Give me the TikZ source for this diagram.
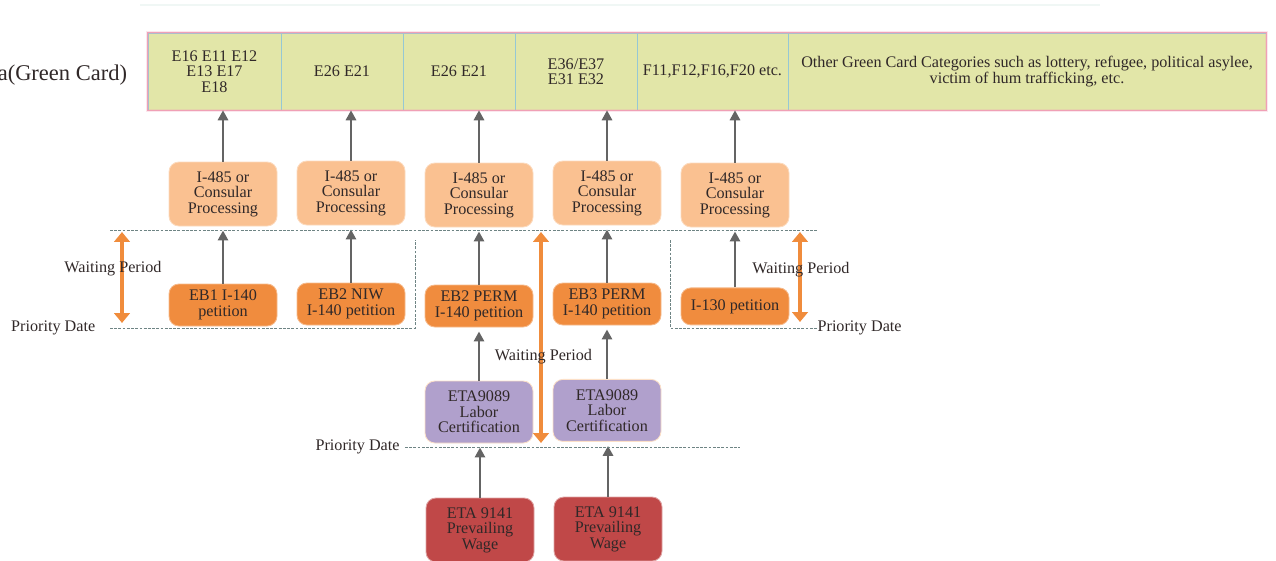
\documentclass[tikz,border=0pt]{standalone}
\usepackage{fontspec}
\setmainfont{Liberation Serif}
\definecolor{gcfill}{RGB}{226, 230, 168}
\definecolor{gcline}{RGB}{150, 200, 212}
\definecolor{gcborder}{RGB}{240, 160, 182}
\definecolor{cporange}{RGB}{250, 193, 145}
\definecolor{petorange}{RGB}{240, 140, 62}
\definecolor{laborpurple}{RGB}{176, 160, 204}
\definecolor{wagered}{RGB}{192, 72, 72}
\definecolor{arrowgray}{RGB}{100, 100, 100}
\definecolor{waitorange}{RGB}{240, 140, 60}
\definecolor{guidegray}{RGB}{110, 132, 132}
\definecolor{inktext}{RGB}{48, 40, 40}
\definecolor{topshade}{RGB}{240, 247, 245}
\usetikzlibrary{arrows.meta, positioning, calc}
\newcommand{\boxfont}{\fontsize{11.5}{11}\selectfont}

\begin{document}
\begin{tikzpicture}[
  gccell/.style={draw=gcline, fill=gcfill, line width=0.6pt, minimum height=1.925cm, inner sep=2pt, align=center, font=\boxfont, text=inktext},
  procbox/.style={rounded corners=7pt, minimum width=2.7cm, inner sep=1pt, align=center, font=\boxfont, text=inktext, line width=0.6pt},
  cpbox/.style={procbox, draw=cporange!60!white, fill=cporange, minimum height=1.6cm},
  petbox/.style={procbox, draw=petorange!60!white, fill=petorange, minimum height=1.05cm},
  laborbox/.style={procbox, draw=cporange!50!white, fill=laborpurple, minimum height=1.55cm},
  wagebox/.style={procbox, draw=wagered!50!white, fill=wagered, minimum height=1.6cm},
  upflow/.style={-{Triangle[length=7pt, width=7.5pt]}, line width=1pt, arrowgray},
  waitarrow/.style={{Triangle[length=7pt, width=11pt]}-{Triangle[length=7pt, width=11pt]}, line width=3.5pt, waitorange},
  guide/.style={guidegray, line width=0.6pt, dash pattern=on 2pt off 1pt},
  note/.style={font=\boxfont, text=inktext}
]
  \useasboundingbox (0,0) rectangle (31.9,-14);

  % faint shade on top
  \draw[topshade, line width=2pt] (3.5,-0.125) -- (27.5,-0.125);

  % Green card categories
  \node[font=\fontsize{16}{18}\selectfont, text=inktext, anchor=east] (gclabel) at (3.3,-1.875) {a(Green Card)};
  \node[gccell, minimum width=3.325cm] (gc1) at (5.3625,-1.7875) {E16 E11 E12\\E13 E17\\E18};
  \node[gccell, minimum width=3.05cm] (gc2) at (8.55,-1.7875) {E26 E21};
  \node[gccell, minimum width=2.8cm] (gc3) at (11.475,-1.7875) {E26 E21};
  \node[gccell, minimum width=3.05cm] (gc4) at (14.4,-1.7875) {E36/E37\\E31 E32};
  \node[gccell, minimum width=3.775cm] (gc5) at (17.8125,-1.7875) {F11,F12,F16,F20 etc.};
  \node[gccell, minimum width=11.95cm] (gc6) at (25.675,-1.7875) {Other Green Card Categories such as lottery, refugee, political asylee,\\victim of hum trafficking, etc.};
  \draw[gcborder, line width=2.5pt, opacity=0.25] (gc1.north west) rectangle (gc6.south east);
  \draw[gcborder, line width=1pt] (gc1.north west) rectangle (gc6.south east);

  % I-485 row
  \node[cpbox] (cp1) at (5.575,-4.85) {I-485 or\\Consular\\Processing};
  \node[cpbox] (cp2) at (8.775,-4.825) {I-485 or\\Consular\\Processing};
  \node[cpbox] (cp3) at (11.975,-4.875) {I-485 or\\Consular\\Processing};
  \node[cpbox] (cp4) at (15.175,-4.825) {I-485 or\\Consular\\Processing};
  \node[cpbox] (cp5) at (18.375,-4.875) {I-485 or\\Consular\\Processing};

  % petitions
  \node[petbox] (eb1) at (5.575,-7.625) {EB1 I-140\\petition};
  \node[petbox] (eb2niw) at (8.775,-7.6) {EB2 NIW\\I-140 petition};
  \node[petbox] (eb2perm) at (11.975,-7.65) {EB2 PERM\\I-140 petition};
  \node[petbox] (eb3perm) at (15.175,-7.6) {EB3 PERM\\I-140 petition};
  \node[petbox, minimum height=0.925cm] (i130) at (18.375,-7.66) {I-130 petition};

  % labor certification and prevailing wage
  \node[laborbox] (eta1) at (11.975,-10.3) {ETA9089\\Labor\\Certification};
  \node[laborbox] (eta2) at (15.175,-10.26) {ETA9089\\Labor\\Certification};
  \node[wagebox] (pw1) at (12.0,-13.25) {ETA 9141\\Prevailing\\Wage};
  \node[wagebox] (pw2) at (15.2,-13.225) {ETA 9141\\Prevailing\\Wage};

  % flow arrows
  \foreach \a/\b in {cp1/gc1, cp2/gc2, cp3/gc3, cp4/gc4, cp5/gc5}
    \draw[upflow] (\a.north) -- (\a.north |- \b.south);
  \foreach \a/\b in {eb1/cp1, eb2niw/cp2, eb2perm/cp3, eb3perm/cp4, i130/cp5, eta1/eb2perm, eta2/eb3perm, pw1/eta1, pw2/eta2}
    \draw[upflow, shorten >=3pt] (\a.north) -- (\a.north |- \b.south);

  % priority date guides
  \draw[guide] (2.75,-5.75) -- (20.45,-5.75);
  \draw[guide] (2.75,-8.2) -- (10.375,-8.2) -- (10.375,-6.0);
  \draw[guide] (16.75,-6.0) -- (16.75,-8.2) -- (20.45,-8.2);
  \draw[guide] (10.125,-11.175) -- (18.5,-11.175);
  \node[note] (pd1) at (1.33,-8.2) {Priority Date};
  \node[note] (pd2) at (21.49,-8.2) {Priority Date};
  \node[note] (pd3) at (8.94,-11.175) {Priority Date};

  % waiting periods
  \coordinate (wl-top) at (3.05,-5.8);
  \coordinate (wl-bot) at (3.05,-8.075);
  \coordinate (wm-top) at (13.525,-5.8);
  \coordinate (wm-bot) at (13.525,-11.075);
  \coordinate (wr-top) at (20.0,-5.8);
  \coordinate (wr-bot) at (20.0,-8.05);
  \draw[waitarrow] (wl-top) -- (wl-bot);
  \draw[waitarrow] (wm-top) -- (wm-bot);
  \draw[waitarrow] (wr-top) -- (wr-bot);
  \node[note] (wp1) at (2.825,-6.725) {Waiting Period};
  \node[note] (wp2) at (13.5875,-8.925) {Waiting Period};
  \node[note] (wp3) at (20.025,-6.75) {Waiting Period};
\end{tikzpicture}
\end{document}
